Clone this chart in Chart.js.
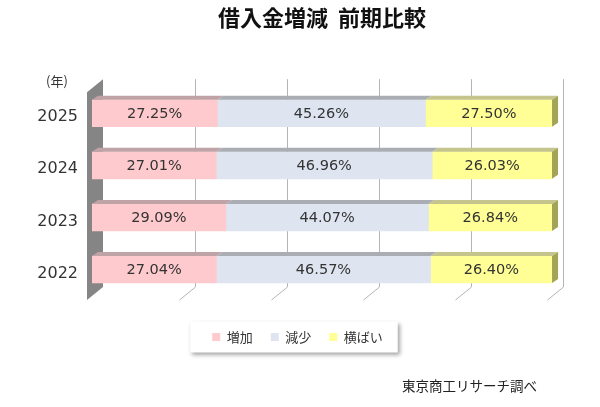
<!DOCTYPE html>
<html lang="ja">
<head>
<meta charset="utf-8">
<title>借入金増減 前期比較</title>
<script src="https://cdn.jsdelivr.net/npm/chart.js@4.4.1/dist/chart.umd.min.js"></script>
<style>
  html, body { margin: 0; padding: 0; background: #fff; }
  #wrap { width: 600px; height: 407px; }
</style>
</head>
<body>
<div id="wrap"><canvas id="chart"></canvas></div>
<script>
const years = ['2025', '2024', '2023', '2022'];
const increase = [27.25, 27.01, 29.09, 27.04];
const decrease = [45.26, 46.96, 44.07, 46.57];
const flat = [27.50, 26.03, 26.84, 26.40];
const seriesNames = ['増加', '減少', '横ばい'];
const gridSteps = [20, 40, 60, 80, 100];

const JP = '"Noto Sans CJK JP", "Noto Sans", sans-serif';
const LATIN = '"DejaVu Sans", Verdana, sans-serif';

const faceColors = ['#ffcacd', '#dee5f0', '#ffff96'];
const topColors = ['#bfa3a6', '#aaaeb4', '#c4c48c'];
const sideColor = '#a3a456';

// depth of the 3d box, and of the bars inside it
const DEPTH = { dx: 16, dy: -13 };
const BAR = { dx: 6, dy: -4 };

function poly(ctx, pts, fill) {
  ctx.beginPath();
  ctx.moveTo(pts[0][0], pts[0][1]);
  for (let i = 1; i < pts.length; i++) ctx.lineTo(pts[i][0], pts[i][1]);
  ctx.closePath();
  ctx.fillStyle = fill;
  ctx.fill();
}

const box3d = {
  id: 'box3d',
  beforeDraw(chart) {
    // legend frame with a soft shadow
    const boxes = chart.legend && chart.legend.legendHitBoxes;
    if (!boxes || !boxes.length) return;
    const ctx = chart.ctx;
    const first = boxes[0], last = boxes[boxes.length - 1];
    const cy = first.top + first.height / 2;
    const l = first.left - 22, r = last.left + last.width + 15;
    ctx.save();
    ctx.shadowColor = 'rgba(0,0,0,0.35)';
    ctx.shadowBlur = 4;
    ctx.shadowOffsetX = 2;
    ctx.shadowOffsetY = 2;
    ctx.fillStyle = '#fff';
    ctx.fillRect(l, cy - 15.5, r - l, 31);
    ctx.restore();
  },
  beforeDatasetsDraw(chart) {
    const { ctx, chartArea } = chart;
    const x = chart.scales.x;
    const fl = x.getPixelForValue(0) - 5;
    const ft = chartArea.top + 5;
    const fb = chartArea.bottom + 4.5;
    ctx.save();
    ctx.strokeStyle = '#b4b4b4';
    ctx.lineWidth = 1;
    gridSteps.forEach(v => {
      const fx = Math.round(x.getPixelForValue(v) - 5) + 0.5;
      const bx = fx + DEPTH.dx;
      ctx.beginPath();
      ctx.moveTo(bx, ft + DEPTH.dy);
      ctx.lineTo(bx, fb + DEPTH.dy);
      ctx.lineTo(fx, fb);
      ctx.stroke();
    });
    // left wall
    poly(ctx, [[fl, ft], [fl + DEPTH.dx, ft + DEPTH.dy], [fl + DEPTH.dx, fb + DEPTH.dy], [fl, fb]], '#858585');
    ctx.restore();
  },
  afterDatasetsDraw(chart) {
    const ctx = chart.ctx;
    const n = chart.data.datasets.length;
    ctx.save();
    chart.data.datasets.forEach((ds, di) => {
      const meta = chart.getDatasetMeta(di);
      meta.data.forEach(bar => {
        const { x, y, base, height } = bar.getProps(['x', 'y', 'base', 'height'], true);
        const top = y - height / 2, bottom = y + height / 2;
        poly(ctx, [[base, top], [x, top], [x + BAR.dx, top + BAR.dy], [base + BAR.dx, top + BAR.dy]], topColors[di]);
        if (di === n - 1) {
          poly(ctx, [[x, top], [x + BAR.dx, top + BAR.dy], [x + BAR.dx, bottom + BAR.dy], [x, bottom]], sideColor);
        }
      });
    });
    ctx.font = '14.5px ' + LATIN;
    ctx.fillStyle = '#333';
    ctx.textAlign = 'center';
    ctx.textBaseline = 'middle';
    chart.data.datasets.forEach((ds, di) => {
      chart.getDatasetMeta(di).data.forEach((bar, i) => {
        const { x, y, base } = bar.getProps(['x', 'y', 'base'], true);
        ctx.fillText(ds.data[i].toFixed(2) + '%', (x + base) / 2, y + 1);
      });
    });
    ctx.restore();
  },
  afterDraw(chart) {
    const ctx = chart.ctx;
    ctx.save();
    ctx.fillStyle = '#333';
    ctx.textBaseline = 'middle';
    ctx.font = '13px ' + JP;
    ctx.textAlign = 'center';
    ctx.fillText('(年)', 57, 81);
    ctx.fillStyle = '#222';
    ctx.font = '13.5px ' + JP;
    ctx.textAlign = 'right';
    ctx.fillText('東京商工リサーチ調べ', 537, 386);
    ctx.restore();
  }
};

new Chart(document.getElementById('chart'), {
  type: 'bar',
  data: {
    labels: years,
    datasets: [increase, decrease, flat].map((values, i) => ({
      label: seriesNames[i],
      data: values,
      backgroundColor: faceColors[i],
      borderWidth: 0,
      barThickness: 27
    }))
  },
  options: {
    indexAxis: 'y',
    responsive: true,
    maintainAspectRatio: false,
    animation: false,
    layout: { padding: { left: 0, right: 5, top: 0, bottom: 53.5 } },
    scales: {
      x: {
        stacked: true,
        min: 0,
        max: 100,
        grid: { display: false },
        border: { display: false },
        ticks: { display: false },
        afterFit(scale) { scale.height = 17; }
      },
      y: {
        stacked: true,
        grid: { display: false, drawTicks: false },
        border: { display: false },
        ticks: { color: '#333', font: { family: LATIN, size: 16 }, padding: 14, labelOffset: 4 },
        afterFit(scale) { scale.width = 92; }
      },
      // empty right axis: keeps room right of the bars so the legend centres like the original
      yRight: {
        position: 'right',
        grid: { display: false, drawTicks: false },
        border: { display: false },
        ticks: { display: false },
        afterFit(scale) { scale.width = 43; }
      }
    },
    plugins: {
      title: {
        display: true,
        text: '借入金増減  前期比較',
        fullSize: false,
        color: '#111',
        font: { family: JP, size: 22, weight: 'bold' },
        padding: { top: 4, bottom: 56.8 }
      },
      legend: {
        position: 'bottom',
        labels: {
          boxWidth: 8,
          boxHeight: 8,
          padding: 18,
          color: '#333',
          font: { family: JP, size: 13 }
        }
      },
      tooltip: { enabled: false }
    }
  },
  plugins: [box3d]
});
</script>
</body>
</html>
